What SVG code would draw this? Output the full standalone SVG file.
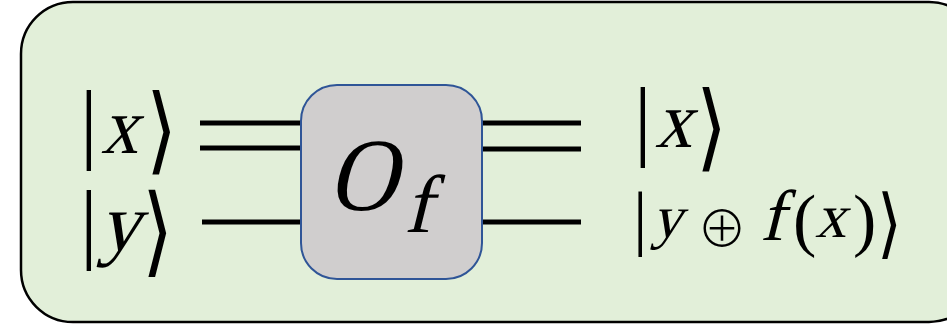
<svg xmlns="http://www.w3.org/2000/svg" width="947" height="325" viewBox="0 0 947 325">
<style>
.w{stroke:#000;stroke-width:5;fill:none}
.t{font-family:"Liberation Serif","Times New Roman",serif;fill:#000}
.a{font-family:"DejaVu Sans",sans-serif;font-weight:200;fill:#000}
</style>
<g id="frame">
<rect x="21" y="2" width="960" height="320" rx="52" ry="52" fill="#e2efd9" stroke="#000" stroke-width="2.5"/>
</g>
<g id="connectors">
<line class="w" x1="200" y1="123" x2="302" y2="123"/>
<line class="w" x1="200" y1="148" x2="302" y2="148"/>
<line class="w" x1="202" y1="222" x2="302" y2="222"/>
<line class="w" x1="481" y1="123" x2="581" y2="123"/>
<line class="w" x1="481" y1="149" x2="581" y2="149"/>
<line class="w" x1="481" y1="222" x2="581" y2="222"/>
</g>
<g id="oracle">
<rect x="301" y="85" width="181" height="194" rx="36" ry="36" fill="#d0cece" stroke="#2f5597" stroke-width="2"/>
<text class="t" transform="translate(327,210) skewX(-14) scale(0.92,1)" font-size="104">O</text>
<text class="t" transform="translate(404,232) skewX(-14)" font-size="82">f</text>
</g>
<g id="in-x">
<text class="t" x="80" y="152" font-size="88">|</text>
<text class="t" transform="translate(101,153) skewX(-14) scale(0.92,1)" font-size="80">x</text>
<text class="a" transform="translate(146,162) scale(1,1.19)" font-size="80">⟩</text>
</g>
<g id="in-y">
<text class="t" x="80" y="252" font-size="88">|</text>
<text class="t" transform="translate(99,250) skewX(-14)" font-size="82">y</text>
<text class="a" transform="translate(142,264) scale(1,1.22)" font-size="80">⟩</text>
</g>
<g id="out-x">
<text class="t" x="634" y="149" font-size="88">|</text>
<text class="t" transform="translate(655,147) skewX(-14) scale(0.92,1)" font-size="80">x</text>
<text class="a" transform="translate(696,159) scale(1,1.19)" font-size="80">⟩</text>
</g>
<g id="out-y">
<text class="t" x="633" y="242" font-size="72">|</text>
<text class="t" transform="translate(652,237) skewX(-14)" font-size="60">y</text>
<text x="697" y="247" font-size="50" font-family="Noto Sans CJK SC" font-weight="300">⊕</text>
<text class="t" transform="translate(760,240) skewX(-14)" font-size="72">f</text>
<text class="t" x="793" y="243" font-size="70">(</text>
<text class="t" transform="translate(815,237) skewX(-14)" font-size="62">x</text>
<text class="t" x="853" y="243" font-size="70">)</text>
<text class="a" transform="translate(877,249) scale(1,1.19)" font-size="64">⟩</text>
</g>
</svg>
